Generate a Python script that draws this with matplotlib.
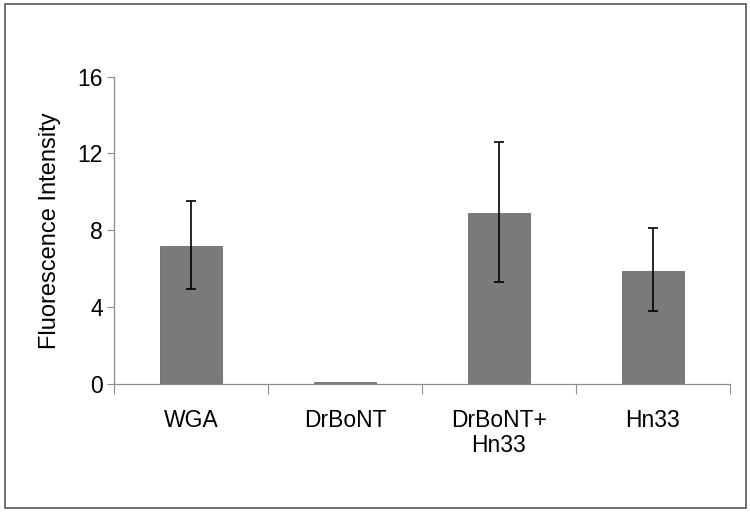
import numpy as np
import matplotlib.pyplot as plt
from matplotlib.patches import Rectangle

plt.rcParams['font.family'] = ['Liberation Sans', 'DejaVu Sans']

# data
groups = ['WGA', 'DrBoNT', 'DrBoNT+\nHn33', 'Hn33']
means = [7.2, 0.12, 8.9, 5.9]
err_low = [2.25, 0.0, 3.6, 2.1]
err_high = [2.3, 0.0, 3.7, 2.2]

fig = plt.figure(figsize=(7.5, 5.14), dpi=100)
ax = fig.add_axes([0.152, 0.253, 0.821, 0.598])

x = np.arange(len(groups))
ax.bar(x, means, width=0.4, color='#7a7a7a', edgecolor='#6a6a6a', linewidth=0.6, zorder=2)

# error bars only where there is spread
has_err = [i for i in range(len(groups)) if err_low[i] > 0 or err_high[i] > 0]
ax.errorbar(x[has_err], np.array(means)[has_err],
            yerr=[np.array(err_low)[has_err], np.array(err_high)[has_err]],
            fmt='none', ecolor='black', elinewidth=1.2, capsize=3.5, capthick=1.2, zorder=3)

ax.set_xlim(-0.5, len(groups) - 0.5)
ax.set_ylim(0, 16)
ax.set_yticks([0, 4, 8, 12, 16])
ax.set_xticks(x)
ax.set_xticklabels(groups, fontsize=16.5, linespacing=1.1)
ax.set_xticks(np.arange(-0.5, len(groups), 1.0), minor=True)
ax.tick_params(axis='x', which='major', length=0, pad=18)
ax.tick_params(axis='x', which='minor', length=7, color='#8c8c8c', width=0.8)
ax.tick_params(axis='y', length=5, color='#8c8c8c', width=0.8, labelsize=16.5, pad=3)

for s in ['top', 'right']:
    ax.spines[s].set_visible(False)
for s in ['left', 'bottom']:
    ax.spines[s].set_color('#8c8c8c')
    ax.spines[s].set_linewidth(0.9)

ax.set_ylabel('Fluorescence Intensity', fontsize=17, labelpad=12)

# outer frame
fig.patches.append(Rectangle((0.007, 0.012), 0.987, 0.98, transform=fig.transFigure,
                             fill=False, edgecolor='#555555', linewidth=1.2))

fig.savefig('out.png', dpi=100)
